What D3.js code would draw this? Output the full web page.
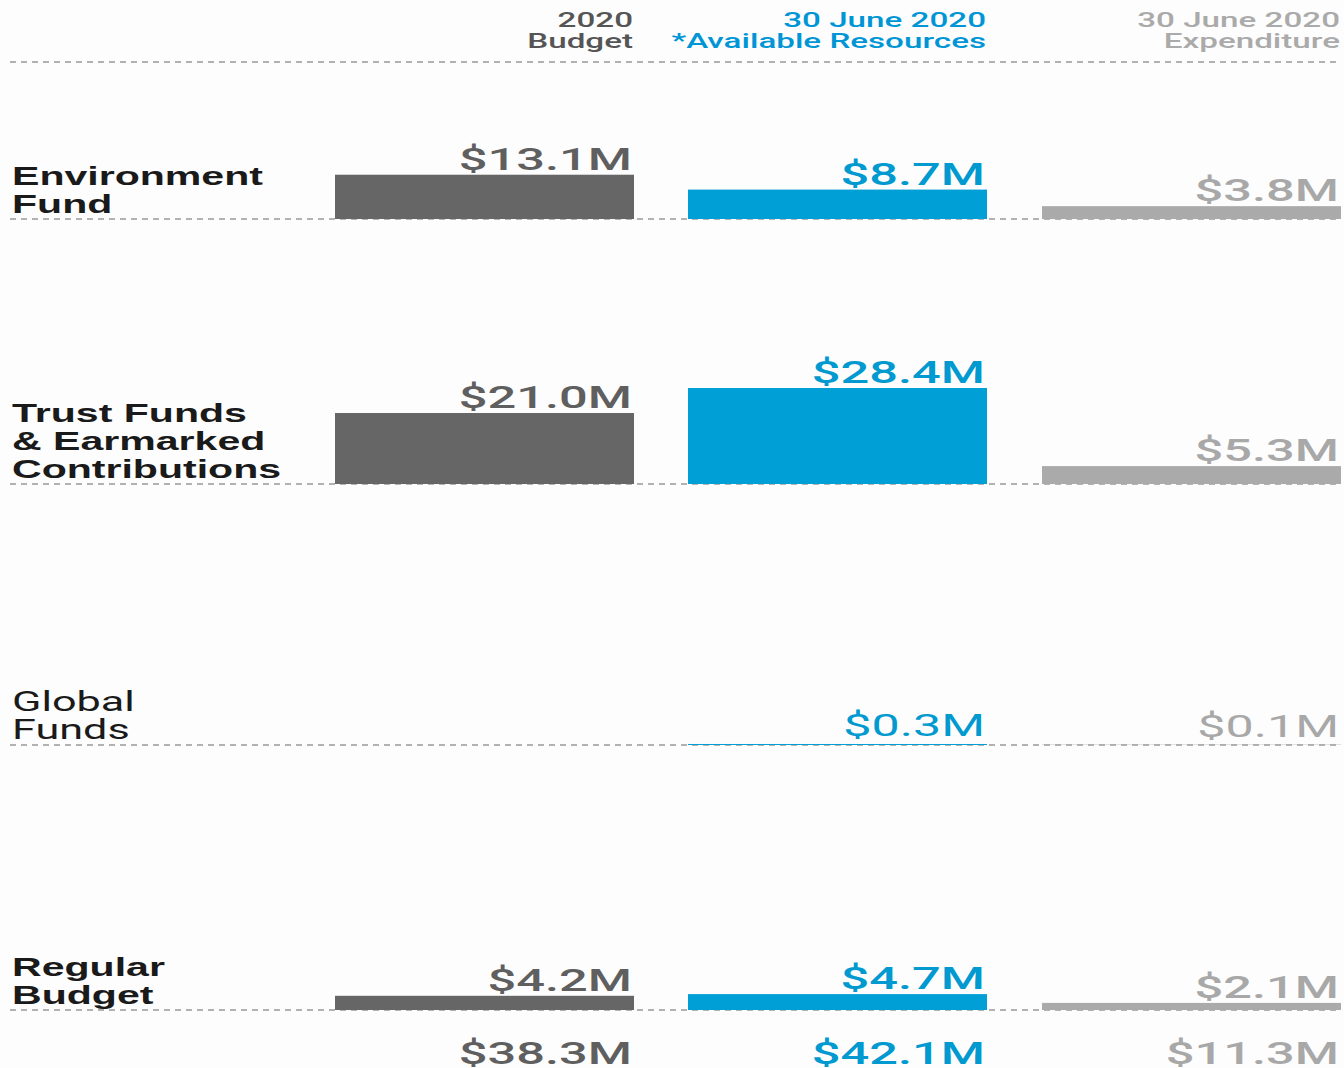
<!DOCTYPE html>
<html>
<head>
    <script src="https://d3js.org/d3.v7.min.js"></script>
    <style>
        body { margin: 0; background: #fdfdfd; }
        .dash { stroke: #999; stroke-width: 1.5px; stroke-dasharray: 6,5; fill: none; }
        .head { font-family: Roboto, sans-serif; font-weight: 500; font-size: 20px; }
        .rowlab { font-family: "Liberation Sans", Arial, sans-serif; font-weight: bold; font-size: 26px; fill: #1a1a1a; }
        .rowlab.thin { font-family: Roboto, sans-serif; font-weight: normal; font-size: 27px; }
        .val { font-family: Roboto, sans-serif; font-weight: 500; font-size: 32px; }
        .val.thin { font-weight: normal; }
    </style>
</head>
<body>
    <svg width="1344" height="1068"></svg>
    <script>
        var categories = [["Environment", "Fund"], ["Trust Funds", "& Earmarked", "Contributions"], ["Global", "Funds"], ["Regular", "Budget"]];
        var columns = [["2020", "Budget"], ["30 June 2020", "*Available Resources"], ["30 June 2020", "Expenditure"]];
        var budget = [13.1, 21.0, 0, 4.2];
        var available = [8.7, 28.4, 0.3, 4.7];
        var expenditure = [3.8, 5.3, 0.1, 2.1];
        var totals = ["$38.3M", "$42.1M", "$11.3M"];

        var series = [budget, available, expenditure];
        var barColor = ["#666666", "#009fd6", "#aaaaaa"];
        var textColor = ["#5f5f5f", "#0099d0", "#a8a8a8"];
        var headColor = ["#555555", "#0096d6", "#aaaaaa"];

        var svg = d3.select("svg");
        var rowBase = [219, 484, 745, 1010];
        var colLeft = [335, 688, 1042];
        var barW = 299;
        var stretch = 1.58;

        var h = d3.scaleLinear().domain([0, 28.4]).range([0, 96]);

        function label(sel, x, y, k) {
            return sel.attr("text-anchor", "end")
                .attr("transform", "translate(" + x + "," + y + ") scale(" + k + ",1)");
        }

        // header
        columns.forEach(function(c, j) {
            c.forEach(function(t, l) {
                label(svg.append("text"), colLeft[j] + barW - 1, 27 + l * 21, 1.66)
                    .attr("class", "head")
                    .style("fill", headColor[j])
                    .text(t);
            });
        });
        svg.append("line").attr("class", "dash")
            .attr("x1", 10).attr("x2", 1340).attr("y1", 62).attr("y2", 62);

        categories.forEach(function(cat, i) {
            var base = rowBase[i];
            var thin = i === 2;

            svg.append("line").attr("class", "dash")
                .attr("x1", 10).attr("x2", 1340).attr("y1", base).attr("y2", base);

            cat.forEach(function(t, l) {
                svg.append("text")
                    .attr("class", thin ? "rowlab thin" : "rowlab")
                    .attr("transform", "translate(12," + (base - 6 - (cat.length - 1 - l) * 28) + ") scale(" + (thin ? 1.6 : stretch) + ",1)")
                    .text(t);
            });

            series.forEach(function(s, j) {
                var v = s[i];
                if (v <= 0) return;
                svg.append("rect")
                    .attr("x", colLeft[j])
                    .attr("y", base - h(v))
                    .attr("width", barW)
                    .attr("height", h(v))
                    .style("fill", barColor[j]);
                label(svg.append("text"), colLeft[j] + barW - 2, base - h(v) - 5 - (v < 1 ? 3 : 0), thin ? 1.57 : stretch)
                    .attr("class", thin ? "val thin" : "val")
                    .style("fill", textColor[j])
                    .text("$" + v.toFixed(1) + "M");
            });
        });

        totals.forEach(function(t, j) {
            label(svg.append("text"), colLeft[j] + barW - 2, 1064, stretch)
                .attr("class", "val")
                .style("fill", textColor[j])
                .text(t);
        });
    </script>
</body>
</html>
